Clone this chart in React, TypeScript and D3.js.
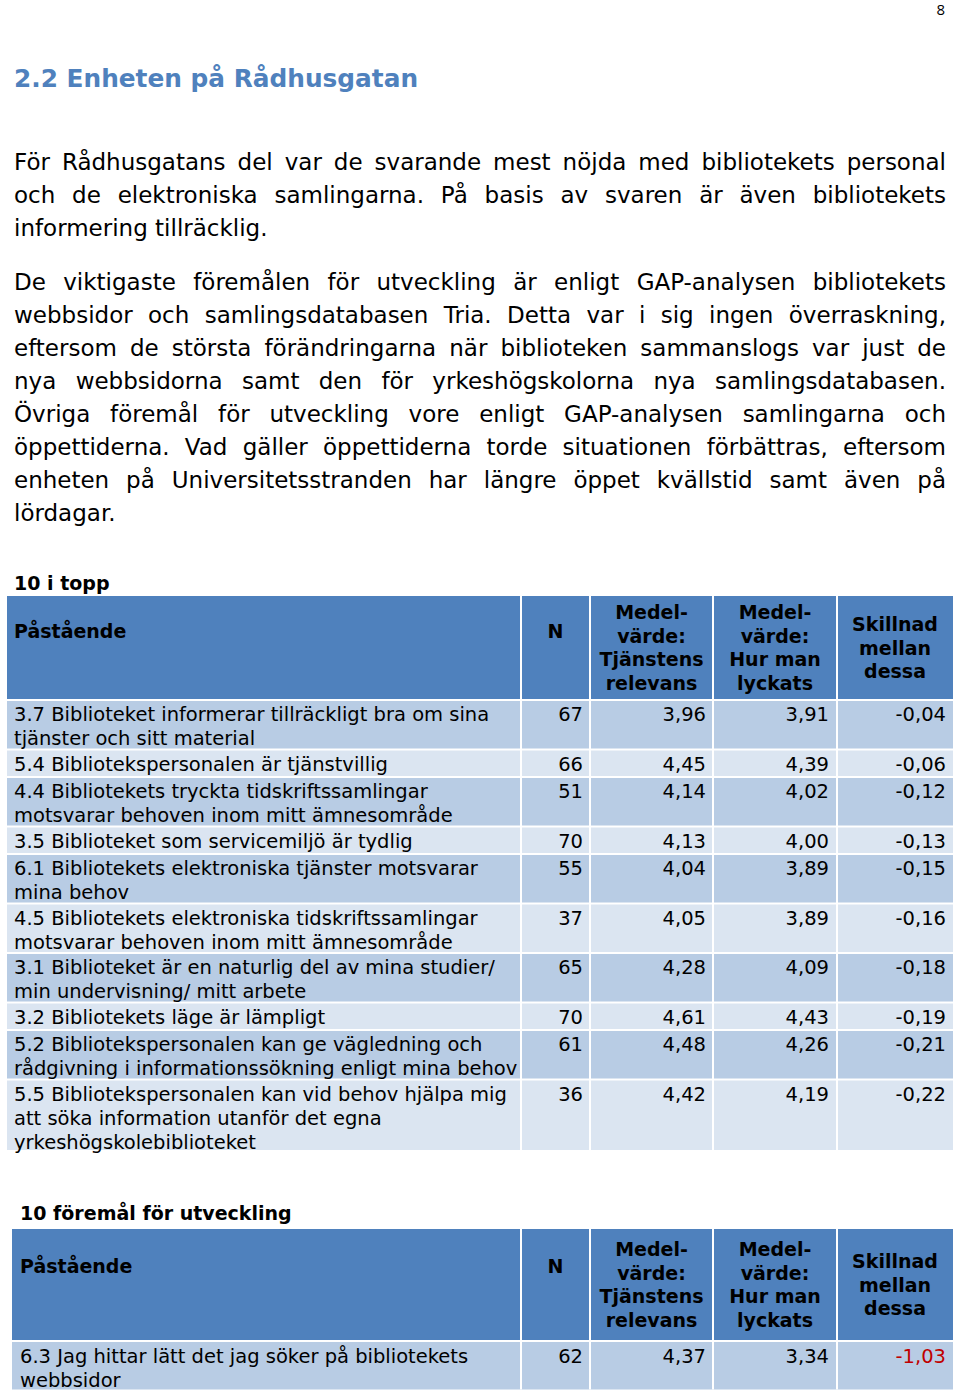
import * as d3 from "d3";
import { useEffect, useRef } from "react";

const WIDTH = 960;
const HEIGHT = 1398;
const FONT = "'DejaVu Sans', Verdana, sans-serif";
const HEADING_BLUE = "#4f81bd";
const HEADER_FILL = "#4f81bd";
const ROW_DARK = "#b8cce4";
const ROW_LIGHT = "#dbe5f1";
const NEGATIVE_RED = "#c00000";

const pageNumber = "8";
const heading = "2.2 Enheten på Rådhusgatan";

// lines as they break in the document, the last line of each paragraph is left aligned
const paragraphOne = [
    "För Rådhusgatans del var de svarande mest nöjda med bibliotekets personal",
    "och de elektroniska samlingarna. På basis av svaren är även bibliotekets",
    "informering tillräcklig."
];
const paragraphTwo = [
    "De viktigaste föremålen för utveckling är enligt GAP-analysen bibliotekets",
    "webbsidor och samlingsdatabasen Tria. Detta var i sig ingen överraskning,",
    "eftersom de största förändringarna när biblioteken sammanslogs var just de",
    "nya webbsidorna samt den för yrkeshögskolorna nya samlingsdatabasen.",
    "Övriga föremål för utveckling vore enligt GAP-analysen samlingarna och",
    "öppettiderna. Vad gäller öppettiderna torde situationen förbättras, eftersom",
    "enheten på Universitetsstranden har längre öppet kvällstid samt även på",
    "lördagar."
];

const columnKeys = ["statement", "n", "relevance", "success", "difference"];
const headerLabels = [
    ["Påstående"],
    ["N"],
    ["Medel-", "värde:", "Tjänstens", "relevans"],
    ["Medel-", "värde:", "Hur man", "lyckats"],
    ["Skillnad", "mellan", "dessa"]
];

// 10 i topp
const topTitle = "10 i topp";
const topStatements = [
    ["3.7 Biblioteket informerar tillräckligt bra om sina", "tjänster och sitt material"],
    ["5.4 Bibliotekspersonalen är tjänstvillig"],
    ["4.4 Bibliotekets tryckta tidskriftssamlingar", "motsvarar behoven inom mitt ämnesområde"],
    ["3.5 Biblioteket som servicemiljö är tydlig"],
    ["6.1 Bibliotekets elektroniska tjänster motsvarar", "mina behov"],
    ["4.5 Bibliotekets elektroniska tidskriftssamlingar", "motsvarar behoven inom mitt ämnesområde"],
    ["3.1 Biblioteket är en naturlig del av mina studier/", "min undervisning/ mitt arbete"],
    ["3.2 Bibliotekets läge är lämpligt"],
    ["5.2 Bibliotekspersonalen kan ge vägledning och", "rådgivning i informationssökning enligt mina behov"],
    ["5.5 Bibliotekspersonalen kan vid behov hjälpa mig", "att söka information utanför det egna", "yrkeshögskolebiblioteket"]
];
const topN = [67, 66, 51, 70, 55, 37, 65, 70, 61, 36];
const topRelevance = [3.96, 4.45, 4.14, 4.13, 4.04, 4.05, 4.28, 4.61, 4.48, 4.42];
const topSuccess = [3.91, 4.39, 4.02, 4.0, 3.89, 3.89, 4.09, 4.43, 4.26, 4.19];
const topDifference = [-0.04, -0.06, -0.12, -0.13, -0.15, -0.16, -0.18, -0.19, -0.21, -0.22];

// 10 föremål för utveckling
const devTitle = "10 föremål för utveckling";
const devStatements = [
    ["6.3 Jag hittar lätt det jag söker på bibliotekets", "webbsidor"]
];
const devN = [62];
const devRelevance = [4.37];
const devSuccess = [3.34];
const devDifference = [-1.03];

const sv = d3.formatLocale({
    decimal: ",",
    thousands: " ",
    grouping: [3],
    currency: ["", " kr"],
    minus: "-"
});
const fmt2 = sv.format(".2f");

const drawParagraph = (svg, lines, x0, x1, firstBaseline, lineHeight) => {
    const g = svg.append("g")
        .attr("font-family", FONT)
        .attr("font-size", 23)
        .attr("fill", "#000");

    lines.forEach((line, li) => {
        const y = firstBaseline + li * lineHeight;
        if (li === lines.length - 1) {
            g.append("text").attr("x", x0).attr("y", y).text(line);
            return;
        }
        const words = line.split(" ");
        const nodes = words.map(w => g.append("text").attr("y", y).text(w));
        const widths = nodes.map(n => n.node().getComputedTextLength());
        const gap = (x1 - x0 - d3.sum(widths)) / (words.length - 1);
        let x = x0;
        nodes.forEach((n, i) => {
            n.attr("x", x);
            x += widths[i] + gap;
        });
    });
};

const drawTable = (svg, cfg) => {
    const right = 953;
    const edges = [cfg.left, 521, 590, 713, 837];
    const colLeft = d3.scaleOrdinal().domain(columnKeys).range(edges);
    const colRight = d3.scaleOrdinal().domain(columnKeys).range([521, 590, 713, 837, right]);
    const colCenter = k => (colLeft(k) + colRight(k)) / 2;

    const g = svg.append("g").attr("font-family", FONT);

    g.append("text")
        .attr("x", cfg.titleX)
        .attr("y", cfg.titleBaseline)
        .attr("font-size", 19)
        .attr("font-weight", "bold")
        .text(cfg.title);

    // header
    g.append("rect")
        .attr("x", cfg.left)
        .attr("y", cfg.top)
        .attr("width", right - cfg.left)
        .attr("height", cfg.headerHeight)
        .attr("fill", HEADER_FILL);

    const headerMid = cfg.top + cfg.headerHeight / 2;
    columnKeys.forEach((key, ci) => {
        const lines = headerLabels[ci];
        const t = g.append("text")
            .attr("font-size", 19)
            .attr("font-weight", "bold")
            .attr("fill", "#000")
            .attr("text-anchor", ci === 0 ? "start" : "middle");
        lines.forEach((line, li) => {
            const y = lines.length === 1
                ? cfg.top + cfg.headerLabelOffset
                : headerMid + (li - (lines.length - 1) / 2) * 23.7 + 7;
            t.append("tspan")
                .attr("x", ci === 0 ? cfg.textX : colCenter(key))
                .attr("y", y)
                .text(line);
        });
    });

    // body rows
    const steps = cfg.statements.map(s => 22 * s.length + 5.5);
    const tops = [0, ...d3.cumsum(steps)].map(v => v + cfg.top + cfg.headerHeight + 2);

    const rows = cfg.statements.map((lines, i) => ({
        lines,
        top: tops[i],
        height: steps[i] - 2,
        n: cfg.n[i],
        relevance: cfg.relevance[i],
        success: cfg.success[i],
        difference: cfg.difference[i]
    }));

    const row = g.selectAll("g.row")
        .data(rows)
        .enter()
        .append("g")
        .attr("class", "row")
        .attr("font-size", 19.5)
        .attr("fill", "#000");

    row.append("rect")
        .attr("x", cfg.left)
        .attr("y", d => d.top)
        .attr("width", right - cfg.left)
        .attr("height", d => d.height)
        .attr("fill", (d, i) => (i % 2 === 0 ? ROW_DARK : ROW_LIGHT));

    row.append("text")
        .selectAll("tspan")
        .data(d => d.lines.map((line, li) => ({ line, y: d.top + cfg.baselineOffset + li * 24.2 })))
        .enter()
        .append("tspan")
        .attr("x", cfg.textX)
        .attr("y", d => d.y)
        .text(d => d.line);

    row.append("text")
        .attr("x", colRight("n") - 7)
        .attr("y", d => d.top + cfg.baselineOffset)
        .attr("text-anchor", "end")
        .text(d => d.n);

    row.append("text")
        .attr("x", colRight("relevance") - 7)
        .attr("y", d => d.top + cfg.baselineOffset)
        .attr("text-anchor", "end")
        .text(d => fmt2(d.relevance));

    row.append("text")
        .attr("x", colRight("success") - 8)
        .attr("y", d => d.top + cfg.baselineOffset)
        .attr("text-anchor", "end")
        .text(d => fmt2(d.success));

    row.append("text")
        .attr("x", colRight("difference") - 7)
        .attr("y", d => d.top + cfg.baselineOffset)
        .attr("text-anchor", "end")
        .attr("fill", d => (d.difference < -0.5 ? NEGATIVE_RED : "#000"))
        .text(d => fmt2(d.difference));

    // white column separators
    const bottom = tops[tops.length - 1] - 2;
    g.selectAll("line.sep")
        .data(columnKeys.slice(1))
        .enter()
        .append("line")
        .attr("class", "sep")
        .attr("x1", k => colLeft(k))
        .attr("x2", k => colLeft(k))
        .attr("y1", cfg.top)
        .attr("y2", bottom)
        .attr("stroke", "#fff")
        .attr("stroke-width", 2);
};

export default function App() {
    const ref = useRef(null);

    useEffect(() => {
        document.body.style.margin = "0";
        const svg = d3.select(ref.current);
        svg.selectAll("*").remove();

        svg.append("rect").attr("width", WIDTH).attr("height", HEIGHT).attr("fill", "#fff");

        svg.append("text")
            .attr("x", 945)
            .attr("y", 15)
            .attr("text-anchor", "end")
            .attr("font-family", "'Open Sans', sans-serif")
            .attr("font-size", 15)
            .text(pageNumber);

        svg.append("text")
            .attr("x", 14)
            .attr("y", 87)
            .attr("font-family", FONT)
            .attr("font-size", 24.8)
            .attr("font-weight", "bold")
            .attr("fill", HEADING_BLUE)
            .text(heading);

        drawParagraph(svg, paragraphOne, 14, 946, 170, 33);
        drawParagraph(svg, paragraphTwo, 14, 946, 290, 33);

        drawTable(svg, {
            title: topTitle,
            titleX: 14,
            titleBaseline: 590,
            left: 7,
            top: 596,
            headerHeight: 103,
            headerLabelOffset: 42,
            textX: 14,
            baselineOffset: 20,
            statements: topStatements,
            n: topN,
            relevance: topRelevance,
            success: topSuccess,
            difference: topDifference
        });

        drawTable(svg, {
            title: devTitle,
            titleX: 20,
            titleBaseline: 1220,
            left: 12,
            top: 1229,
            headerHeight: 111,
            headerLabelOffset: 44,
            textX: 20,
            baselineOffset: 21,
            statements: devStatements,
            n: devN,
            relevance: devRelevance,
            success: devSuccess,
            difference: devDifference
        });
    }, []);

    return <svg ref={ref} width={WIDTH} height={HEIGHT} style={{ display: "block" }}></svg>;
}
